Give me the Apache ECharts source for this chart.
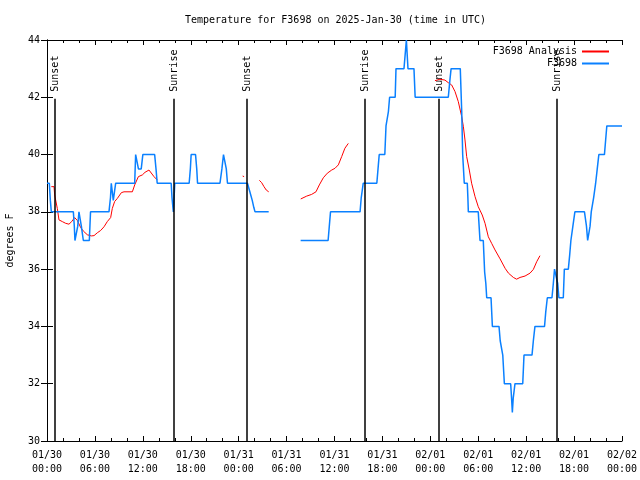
<!DOCTYPE html>
<html><head><meta charset="utf-8">
<script src="https://cdn.jsdelivr.net/npm/echarts@6/dist/echarts.min.js"></script>
<style>html,body{margin:0;padding:0;background:#fff}#c{width:640px;height:480px}</style>
</head><body><div id="c"></div>
<script>
const FONT = '"DejaVu Sans Mono", "Liberation Mono", monospace';
const titleText = 'Temperature for F3698 on 2025-Jan-30 (time in UTC)';
const yAxisName = 'degrees F';
const xTickLabels = ['01/30\n00:00','01/30\n06:00','01/30\n12:00','01/30\n18:00','01/31\n00:00','01/31\n06:00','01/31\n12:00','01/31\n18:00','02/01\n00:00','02/01\n06:00','02/01\n12:00','02/01\n18:00','02/02\n00:00'];
const seriesNames = ['F3698 Analysis', 'F3698'];

// hours since 01/30 00:00 UTC
const obsHours = [0,0.29,0.42,0.54,3.3,3.42,3.5,3.75,3.85,4.0,4.2,4.3,4.55,5.3,5.45,7.76,7.95,8.05,8.2,8.3,8.45,8.6,10.98,11.1,11.3,11.45,11.8,12.0,13.48,13.65,13.8,15.55,15.65,15.75,15.82,15.88,16.0,17.8,17.95,18.05,18.6,18.75,18.85,21.66,21.9,22.1,22.25,22.45,22.6,25.1,25.4,25.7,25.9,26.05,27.76,29,31.76,35.2,35.35,35.5,39.2,39.35,39.6,41.3,41.45,41.6,42.3,42.45,42.75,42.9,43.6,43.7,44.7,44.85,45.0,45.1,45.2,45.95,46.1,50.25,50.45,50.6,51.75,51.93,52.05,52.25,52.63,52.7,52.76,54.0,54.22,54.63,54.7,54.8,54.95,55.06,55.6,55.77,56.6,56.75,57.07,57.15,57.27,58.06,58.17,58.27,58.38,58.6,59.57,59.73,60.73,60.9,61.1,62.3,62.45,62.65,63.23,63.4,63.55,63.7,63.95,64.1,64.65,64.78,65.28,65.45,65.6,65.85,66.1,67.3,67.55,67.7,67.8,68.0,68.15,68.45,68.7,68.9,69.1,69.8,69.95,70.1,72];
const obsTemps = [39,39,38.4,38,38,37.5,37,37,37.5,38,38,37.5,37,37,38,38,38.5,39,39,38.4,38.4,39,39,40,40,39.5,39.5,40,40,39.5,39,39,38.5,38.2,38,38.3,39,39,39.5,40,40,39.5,39,39,39.5,40,40,39.5,39,39,38.7,38.4,38.15,38,38,null,37,37,37.5,38,38,38.5,39,39,39.5,40,40,41,41.5,42,42,43,43,43.5,44,44,43,43,42,42,42.6,43,43,41.5,40,39,39,38.5,38,38,37,37,36.55,35.9,35.5,35,35,34,34,33.5,33,33,32,32,31.5,31,31.5,32,32,33,33,33.5,34,34,34.5,35,35,35.5,36,36,35.5,35,35,36,36,36.5,37,37.5,38,38,37.5,37,37,37.5,38,38.5,39,39.5,40,40,40.5,41,41];

const anaHours = [0.54,0.88,0.96,1.29,1.5,1.92,2.34,2.75,3.09,3.46,3.8,4.22,4.55,5.05,5.55,5.89,6.3,6.72,7.14,7.55,7.97,8.18,8.47,8.81,9.31,9.64,10.69,10.98,11.44,11.94,12.27,12.77,12.98,13.4,13.82,19,24.5,24.68,25.5,26.59,26.88,27.17,27.46,27.76,30,31.77,32.52,33.14,33.68,34.1,34.6,35.1,35.65,36.06,36.48,36.9,37.3,37.73,43,48.58,49.2,49.83,50.25,50.67,51.09,51.5,51.93,52.14,52.34,52.55,52.88,53.17,53.6,54.0,54.5,54.85,55.26,55.68,56.1,56.73,57.36,57.78,58.4,58.8,59.23,59.86,60.48,60.9,61.32,61.73];
const anaTemps = [38.88,38.88,38.59,38.12,37.72,37.66,37.6,37.57,37.66,37.8,37.7,37.45,37.33,37.2,37.16,37.17,37.27,37.35,37.48,37.66,37.8,38.12,38.36,38.47,38.67,38.7,38.7,38.94,39.23,39.29,39.38,39.46,39.45,39.23,39.11,null,39.25,39.23,null,39.10,39.02,38.88,38.76,38.70,null,38.45,38.55,38.61,38.70,38.94,39.19,39.35,39.46,39.52,39.64,39.93,40.22,40.39,null,42.58,42.63,42.6,42.51,42.43,42.2,41.85,41.32,40.97,40.51,39.93,39.46,39.0,38.53,38.18,37.89,37.6,37.13,36.9,36.67,36.36,36.03,35.86,35.71,35.65,35.71,35.76,35.86,35.99,36.26,36.47];

const sunHours = [0.92, 15.82, 24.96, 39.73, 49.0, 63.78];
const sunLabels = ['Sunset','Sunrise','Sunset','Sunrise','Sunset','Sunrise'];

const Y_MIN = 30, Y_MAX = 44, Y_STEP = 2, X_MAX = 72, X_STEP = 6;
const SUN_LINE_TOP = 41.95;

const pair = (xs, ys) => xs.map((x, i) => [x, ys[i] === null ? '-' : ys[i]]);

const chart = echarts.init(document.getElementById('c'));
const axisCommon = {
  axisLine: {show: true, lineStyle: {color: '#000', width: 1}},
  splitLine: {show: false}
};
chart.setOption({
  animation: false,
  backgroundColor: '#fff',
  textStyle: {fontFamily: FONT},
  grid: {left: 47, right: 18, top: 40, bottom: 39, containLabel: false, outerBoundsMode: 'none'},
  legend: {
    orient: 'vertical', right: 26, top: 41, align: 'right',
    itemWidth: 27, itemHeight: 2, itemGap: 1, icon: 'rect',
    textStyle: {fontFamily: FONT, fontSize: 10, color: '#000', lineHeight: 11},
    data: seriesNames
  },
  xAxis: [
    Object.assign({type: 'value', min: 0, max: X_MAX, interval: X_STEP, position: 'bottom',
      axisTick: {show: true, inside: true, length: 5, lineStyle: {color: '#000'}},
      minorTick: {show: true, splitNumber: 3, length: 3, lineStyle: {color: '#000'}},
      axisLabel: {fontFamily: FONT, fontSize: 10, color: '#000', margin: 7, lineHeight: 14,
        formatter: v => xTickLabels[Math.round(v / X_STEP)]}}, axisCommon),
    Object.assign({type: 'value', min: 0, max: X_MAX, interval: X_STEP, position: 'top',
      axisTick: {show: true, inside: true, length: 5, lineStyle: {color: '#000'}},
      minorTick: {show: true, splitNumber: 3, length: 3, lineStyle: {color: '#000'}},
      axisLabel: {show: false}}, axisCommon)
  ],
  yAxis: [
    Object.assign({type: 'value', min: Y_MIN, max: Y_MAX, interval: Y_STEP, position: 'left',
      name: yAxisName, nameLocation: 'middle', nameGap: 32,
      nameTextStyle: {fontFamily: FONT, fontSize: 10, color: '#000'},
      axisTick: {show: true, inside: true, length: 6, lineStyle: {color: '#000'}},
      axisLabel: {fontFamily: FONT, fontSize: 10, color: '#000', margin: 7}}, axisCommon),
    Object.assign({type: 'value', min: Y_MIN, max: Y_MAX, interval: Y_STEP, position: 'right',
      axisTick: {show: true, inside: true, length: 6, lineStyle: {color: '#000'}},
      axisLabel: {show: false}}, axisCommon)
  ],
  series: [
    {
      name: seriesNames[0], type: 'line', data: pair(anaHours, anaTemps),
      showSymbol: false, connectNulls: false, color: '#ff0000',
      lineStyle: {width: 1, color: '#ff0000'}, z: 3
    },
    {
      name: seriesNames[1], type: 'line', data: pair(obsHours, obsTemps),
      showSymbol: false, connectNulls: false, color: '#0a80ff',
      lineStyle: {width: 1.5, color: '#0a80ff'}, z: 4,
      markLine: {
        silent: true, symbol: 'none', label: {show: false},
        lineStyle: {color: '#000', width: 1.5, type: 'solid'},
        data: sunHours.map(h => [{coord: [h, Y_MIN]}, {coord: [h, SUN_LINE_TOP]}])
      }
    }
  ]
});

const gx = chart.convertToPixel({xAxisIndex: 0, yAxisIndex: 0}, [X_MAX / 2, Y_MAX]);
const graphics = [{
  type: 'text', x: gx[0] + 1, y: 20,
  style: {text: titleText, font: '10px ' + FONT, fill: '#000', align: 'center', verticalAlign: 'middle'}
}];
sunHours.forEach((h, i) => {
  const p = chart.convertToPixel({xAxisIndex: 0, yAxisIndex: 0}, [h, SUN_LINE_TOP]);
  graphics.push({
    type: 'text', x: p[0] + 1, y: p[1] - 7, rotation: Math.PI / 2,
    style: {text: sunLabels[i], font: '10px ' + FONT, fill: '#000', align: 'left', verticalAlign: 'middle'}
  });
});
chart.setOption({graphic: graphics});
</script>
</body></html>
